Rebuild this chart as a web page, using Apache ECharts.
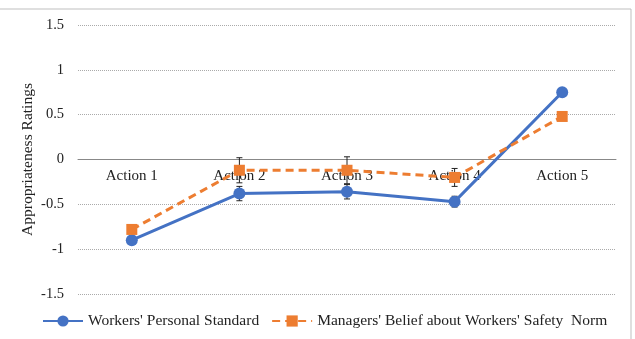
<!DOCTYPE html>
<html>
<head>
<meta charset="utf-8">
<script src="https://cdn.jsdelivr.net/npm/echarts@6/dist/echarts.min.js"></script>
<style>
  html, body { margin: 0; padding: 0; background: #fff; }
  #chart { width: 635px; height: 339px; }
</style>
</head>
<body>
<div id="chart"></div>
<script>
const categories = ['Action 1', 'Action 2', 'Action 3', 'Action 4', 'Action 5']
const workers = [-0.9, -0.38, -0.36, -0.47, 0.75]
const workersErr = [0.03, 0.08, 0.08, 0.06, 0.03]
const managers = [-0.78, -0.12, -0.12, -0.2, 0.48]
const managersErr = [0.03, 0.14, 0.15, 0.1, 0.03]
const yTicks = [-1.5, -1, -0.5, 0, 0.5, 1, 1.5]

const font = 'Liberation Serif'

function errorData(vals, errs) {
  return vals.map((v, i) => [i, v - errs[i], v + errs[i]])
}

function errorSeries(name, vals, errs) {
  return {
    name: name + ' err',
    type: 'custom',
    z: 1,
    silent: true,
    renderItem(params, api) {
      const lo = api.coord([api.value(0), api.value(1)])
      const hi = api.coord([api.value(0), api.value(2)])
      const w = 3
      const style = { stroke: '#222', lineWidth: 1 }
      return {
        type: 'group',
        children: [
          { type: 'line', shape: { x1: lo[0], y1: lo[1], x2: hi[0], y2: hi[1] }, style },
          { type: 'line', shape: { x1: lo[0] - w, y1: lo[1], x2: lo[0] + w, y2: lo[1] }, style },
          { type: 'line', shape: { x1: hi[0] - w, y1: hi[1], x2: hi[0] + w, y2: hi[1] }, style }
        ]
      }
    },
    data: errorData(vals, errs)
  }
}

// category names sit just under the zero line, like the axis in the original
const labelSeries = {
  name: 'labels',
  type: 'custom',
  z: 0,
  silent: true,
  renderItem(params, api) {
    const p = api.coord([api.value(0), 0])
    return {
      type: 'text',
      style: {
        x: p[0], y: p[1] + 9,
        text: categories[api.value(0)],
        fill: '#222',
        font: '15px "Liberation Serif"',
        align: 'center',
        verticalAlign: 'top'
      }
    }
  },
  data: categories.map((c, i) => [i])
}

const chart = echarts.init(document.getElementById('chart'))
chart.setOption({
  animation: false,
  textStyle: { fontFamily: font },
  color: ['#4472C4', '#ED7D31'],
  graphic: [{
    type: 'rect',
    shape: { x: -2, y: 9, width: 633, height: 340 },
    style: { fill: 'none', stroke: '#bfbfbf', lineWidth: 1 },
    silent: true
  }],
  grid: { left: 78, right: 19, top: 25, bottom: 45 },
  legend: {
    bottom: 5,
    left: 37,
    itemWidth: 40,
    itemHeight: 14,
    itemGap: 12,
    textStyle: { fontFamily: font, fontSize: 15.5, color: '#222' },
    data: ["Workers' Personal Standard", "Managers' Belief about Workers' Safety  Norm"]
  },
  xAxis: {
    type: 'category',
    data: categories,
    axisLine: { onZero: true, lineStyle: { color: '#888', width: 1 } },
    axisTick: { show: false },
    axisLabel: { show: false }
  },
  yAxis: {
    type: 'value',
    min: -1.5,
    max: 1.5,
    interval: 0.5,
    name: 'Appropriateness Ratings',
    nameLocation: 'middle',
    nameGap: 42,
    nameMoveOverlap: false,
    nameTextStyle: { fontFamily: font, fontSize: 15.5, color: '#222' },
    axisLine: { show: false },
    axisTick: { show: false },
    axisLabel: {
      fontFamily: font, fontSize: 14.5, color: '#222', margin: 14,
      formatter: v => yTicks.includes(v) ? String(v) : ''
    },
    splitLine: { lineStyle: { color: '#aaa', type: [1, 1], width: 1 } }
  },
  series: [
    labelSeries,
    errorSeries('workers', workers, workersErr),
    errorSeries('managers', managers, managersErr),
    {
      name: "Workers' Personal Standard",
      type: 'line',
      z: 3,
      data: workers,
      symbol: 'circle',
      symbolSize: 12,
      lineStyle: { width: 3 },
      itemStyle: { color: '#4472C4' }
    },
    {
      name: "Managers' Belief about Workers' Safety  Norm",
      type: 'line',
      z: 3,
      data: managers,
      symbol: 'rect',
      symbolSize: 11,
      lineStyle: { width: 3, type: [8, 5] },
      itemStyle: { color: '#ED7D31' }
    }
  ]
})
</script>
</body>
</html>
